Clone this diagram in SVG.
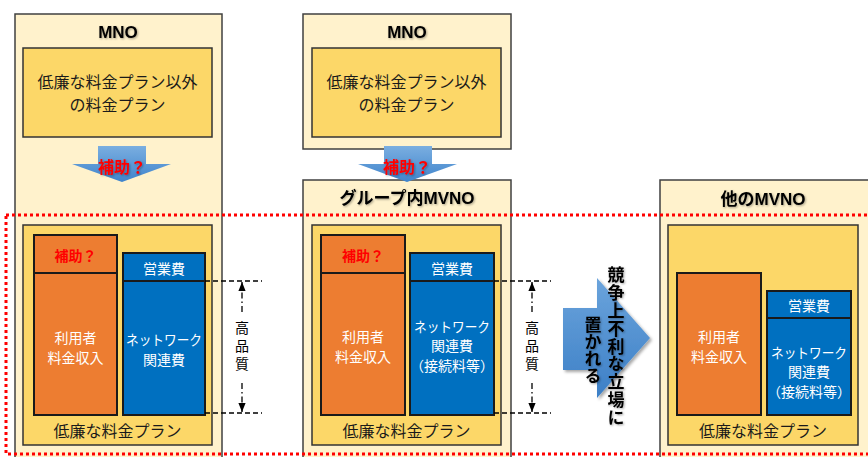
<svg xmlns="http://www.w3.org/2000/svg" width="868" height="457" viewBox="0 0 868 457">
<defs>
<linearGradient id="gArrow" x1="0" y1="0" x2="0" y2="1">
<stop offset="0" stop-color="#7AAEE0"/>
<stop offset="1" stop-color="#3F84CC"/>
</linearGradient>
<linearGradient id="gBig" x1="0" y1="0" x2="0" y2="1">
<stop offset="0" stop-color="#6BA4DC"/>
<stop offset="1" stop-color="#3C7FC6"/>
</linearGradient>
<filter id="sh" x="-10%" y="-10%" width="130%" height="140%">
<feDropShadow dx="1" dy="1" stdDeviation="0.8" flood-color="#000" flood-opacity="0.35"/>
</filter>
<filter id="bsh" x="-10%" y="-10%" width="130%" height="130%">
<feDropShadow dx="2" dy="2" stdDeviation="1.5" flood-color="#000" flood-opacity="0.35"/>
</filter>
<marker id="ah" viewBox="0 0 10 10" refX="10" refY="5" markerWidth="7" markerHeight="7" orient="auto-start-reverse">
<path d="M0,1 L10,5 L0,9 z" fill="#000"/>
</marker>
</defs>
<style>
.outer{fill:#FFF2CC;stroke:#404040;stroke-width:1.5}
.inner{fill:#FCD768;stroke:#333;stroke-width:1.5}
.orange{fill:#ED7D31;stroke:#1a1a1a;stroke-width:2}
.blue{fill:#0070C0;stroke:#1a1a1a;stroke-width:2}
.div{stroke:#1a1a1a;stroke-width:2}
.t{font-family:"Noto Sans CJK JP","Liberation Sans",sans-serif;text-anchor:middle;dominant-baseline:central}
.dk{fill:#1a1a1a;font-size:16px}
.w{fill:#fff;font-size:14px}
.title{font-family:"Liberation Sans","Noto Sans CJK JP",sans-serif;font-weight:bold;fill:#000;font-size:17px;text-anchor:middle;dominant-baseline:central}
.red{fill:#FF0000;font-weight:bold}
.dash{stroke:#000;stroke-width:1.3;stroke-dasharray:5,3;fill:none}
.dd{stroke:#000;stroke-width:1.3;stroke-dasharray:6,3,1.5,3;fill:none}
.hq{font-family:"Noto Sans CJK JP",sans-serif;font-size:14px;fill:#000;writing-mode:vertical-rl;text-anchor:start;letter-spacing:4px}
.vt{font-family:"Noto Sans CJK JP",sans-serif;font-weight:bold;font-size:17px;fill:#000;writing-mode:vertical-rl;text-anchor:start}
</style>

<g id="mno-left">
<rect class="outer" x="15" y="14" width="207" height="450"/>
<text class="title" x="118" y="32" filter="url(#sh)">MNO</text>
<rect class="inner" x="23" y="48" width="189" height="89"/>
<text class="t dk"><tspan x="117.5" y="80.5">低廉な料金プラン以外</tspan><tspan x="117.5" y="103.5">の料金プラン</tspan></text>
</g>

<g id="mno-mid">
<rect class="outer" x="303" y="14" width="208" height="135"/>
<text class="title" x="407" y="32" filter="url(#sh)">MNO</text>
<rect class="inner" x="312" y="48" width="189" height="89"/>
<text class="t dk"><tspan x="406.5" y="80.5">低廉な料金プラン以外</tspan><tspan x="406.5" y="103.5">の料金プラン</tspan></text>
</g>

<g id="mvno-group">
<rect class="outer" x="303" y="180" width="208" height="284"/>
<text class="title" x="407" y="198" font-size="19" filter="url(#sh)">グループ内MVNO</text>
</g>

<g id="mvno-other">
<rect class="outer" x="660" y="180" width="212" height="284"/>
<text class="title" x="763" y="199" font-size="20" filter="url(#sh)">他のMVNO</text>
</g>

<g id="plan-left">
<rect class="inner" x="23" y="225" width="189" height="220"/>
<rect class="orange" x="34" y="235" width="83" height="180"/>
<line class="div" x1="34" y1="273" x2="117" y2="273"/>
<text class="t red" x="75.5" y="255" font-size="14">補助？</text>
<text class="t w"><tspan x="75.5" y="337">利用者</tspan><tspan x="75.5" y="357">料金収入</tspan></text>
<rect class="blue" x="123" y="253" width="82" height="162"/>
<line class="div" x1="123" y1="281" x2="205" y2="281"/>
<text class="t w" x="164" y="268">営業費</text>
<text class="t w"><tspan x="164" y="339" textLength="76" lengthAdjust="spacingAndGlyphs">ネットワーク</tspan><tspan x="164" y="359">関連費</tspan></text>
<text class="t dk" x="117.5" y="430">低廉な料金プラン</text>
</g>

<g id="plan-mid">
<rect class="inner" x="312" y="225" width="189" height="220"/>
<rect class="orange" x="321" y="235" width="84" height="180"/>
<line class="div" x1="321" y1="273" x2="405" y2="273"/>
<text class="t red" x="363" y="255" font-size="14">補助？</text>
<text class="t w"><tspan x="363" y="336">利用者</tspan><tspan x="363" y="356">料金収入</tspan></text>
<rect class="blue" x="410" y="253" width="84" height="162"/>
<line class="div" x1="410" y1="281" x2="494" y2="281"/>
<text class="t w" x="452" y="268">営業費</text>
<text class="t w"><tspan x="452" y="325.5" textLength="76" lengthAdjust="spacingAndGlyphs">ネットワーク</tspan><tspan x="452" y="345">関連費</tspan><tspan x="452" y="364.5">（接続料等）</tspan></text>
<text class="t dk" x="406.5" y="430">低廉な料金プラン</text>
</g>

<g id="plan-other">
<rect class="inner" x="668" y="225" width="190" height="220"/>
<rect class="orange" x="677" y="273" width="84" height="142"/>
<text class="t w"><tspan x="719" y="336">利用者</tspan><tspan x="719" y="356">料金収入</tspan></text>
<rect class="blue" x="767" y="291" width="84" height="124"/>
<line class="div" x1="767" y1="318" x2="851" y2="318"/>
<text class="t w" x="809" y="305">営業費</text>
<text class="t w"><tspan x="809" y="351.5" textLength="76" lengthAdjust="spacingAndGlyphs">ネットワーク</tspan><tspan x="809" y="371">関連費</tspan><tspan x="809" y="390.5">（接続料等）</tspan></text>
<text class="t dk" x="763" y="430">低廉な料金プラン</text>
</g>

<g id="connectors">
<g id="arrow-left">
<polygon points="98,146 146,146 146,164 171,164 122,182 72,164 98,164" fill="url(#gArrow)"/>
<text class="t red" x="122" y="166" font-size="16" filter="url(#sh)">補助？</text>
</g>
<g id="arrow-mid">
<polygon points="384,146 432,146 432,164 457,164 407,182 358,164 384,164" fill="url(#gArrow)"/>
<text class="t red" x="407" y="166" font-size="16" filter="url(#sh)">補助？</text>
</g>
<g id="hq-left">
<line class="dash" x1="205" y1="281" x2="262" y2="281"/>
<line class="dash" x1="205" y1="413" x2="262" y2="413"/>
<line class="dd" x1="242" y1="312" x2="242" y2="282" marker-end="url(#ah)"/>
<line class="dd" x1="242" y1="383" x2="242" y2="412" marker-end="url(#ah)"/>
<text class="hq" x="242" y="321">高品質</text>
</g>
<g id="hq-mid">
<line class="dash" x1="494" y1="281" x2="551" y2="281"/>
<line class="dash" x1="494" y1="413" x2="551" y2="413"/>
<line class="dd" x1="532" y1="312" x2="532" y2="282" marker-end="url(#ah)"/>
<line class="dd" x1="532" y1="383" x2="532" y2="412" marker-end="url(#ah)"/>
<text class="hq" x="532" y="321">高品質</text>
</g>
<g id="big-arrow">
<polygon points="563,308 597,308 597,278 650,338 597,398 597,370 563,370" fill="url(#gBig)" filter="url(#bsh)"/>
<text class="vt" x="616" y="266.5" letter-spacing="0.8" filter="url(#sh)">競争上不利な立場に</text>
<text class="vt" x="593" y="316.5" filter="url(#sh)">置かれる</text>
</g>
</g>

<rect id="focus" x="6" y="215" width="870" height="239" fill="none" stroke="#FF0000" stroke-width="3" stroke-dasharray="3,3"/>
</svg>
